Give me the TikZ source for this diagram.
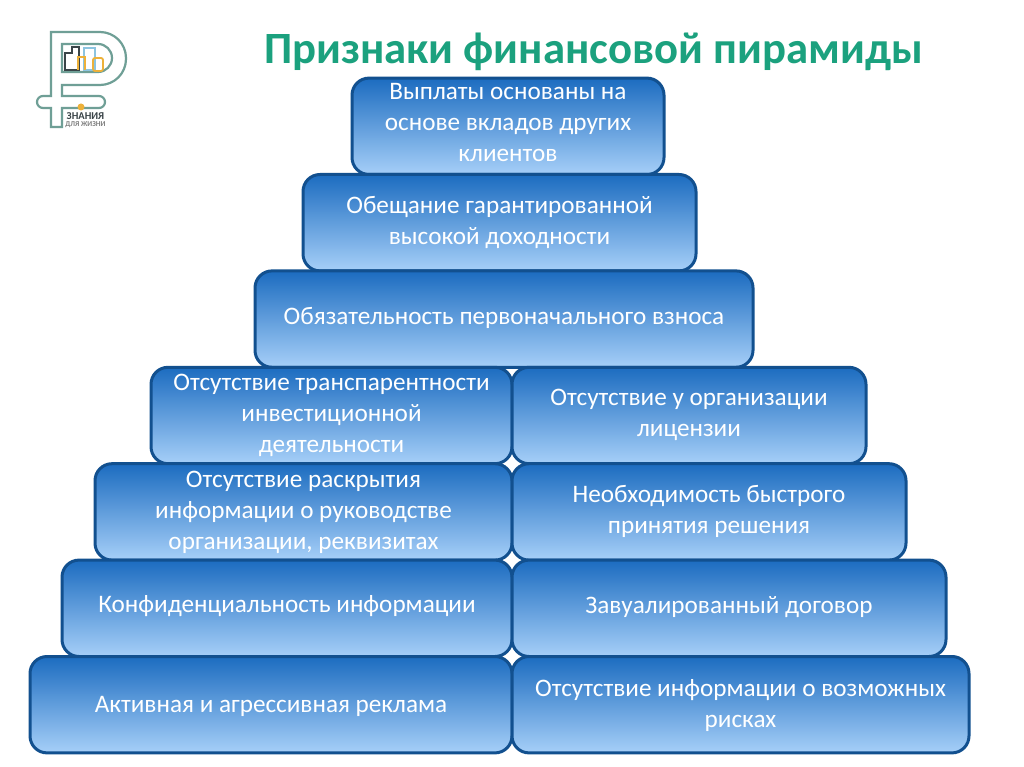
\documentclass[tikz,border=0pt]{standalone}
\usepackage{fontspec}
\setmainfont{Carlito}
\usepackage{xcolor}
\usetikzlibrary{positioning}
\definecolor{tierline}{HTML}{12508F}
\definecolor{tiertop}{HTML}{1C6CC0}
\definecolor{tierbottom}{HTML}{A6CFF8}
\definecolor{titlegreen}{HTML}{1BA17E}
\definecolor{logoline}{HTML}{6F9F96}
\definecolor{logoorange}{HTML}{EDB13A}
\definecolor{logoblue}{HTML}{8CC4E0}
\definecolor{logodark}{HTML}{3A4448}

\begin{document}
\begin{tikzpicture}[
    x=1pt, y=-1pt,
    tier/.style={rectangle, draw=tierline, line width=3pt, top color=tiertop, bottom color=tierbottom, rounded corners=17pt, outer sep=0pt, inner sep=0pt, minimum height=96.4pt, minimum width=#1, align=center, text=white, font=\fontsize{25.2}{31}\selectfont},
    heading/.style={font=\bfseries\fontsize{44.7}{50}\selectfont, text=titlegreen, inner sep=0pt},
    logotext/.style={inner sep=0pt, font=\bfseries\fontsize{#1}{#1}\selectfont},
    logoshape/.style={draw=logoline, line width=2.2pt, fill=white}
  ]
    \useasboundingbox (0,0) rectangle (1024,767);
    \fill[white] (0,0) rectangle (1024,767);

    % Title
    \node[heading] (title) at (593.5,52) {Признаки финансовой пирамиды};

    % Logo
    \draw[logoshape] (51,127) -- (51,108) [rounded corners=6pt] -- (37,108) -- (37,96) [sharp corners] -- (51,96) -- (51,32) -- (100,32) [rounded corners=26pt] -- (126,32) -- (126,85) [sharp corners] -- (100,85) -- (62,85) -- (62,96) [rounded corners=6pt] -- (105,96) -- (105,108) [sharp corners] -- (62,108) -- (62,127) -- cycle;
    \draw[logoshape] (62,44) -- (98,44) [rounded corners=14pt] -- (112,44) -- (112,72) [sharp corners] -- (98,72) -- (62,72) -- cycle;
    \draw[logodark, line width=2.2pt] (65,70) -- (65,53) -- (72,53) -- (72,47) -- (79,47) -- (79,70) -- cycle;
    \draw[logoblue, line width=1.8pt] (84,70) -- (84,48) -- (95,48) -- (95,70) -- cycle;
    \draw[logoorange, line width=1.8pt] (78,70) -- (78,57) -- (85,57) -- (85,70);
    \draw[logoorange, line width=1.8pt, rounded corners=2pt] (93,71) -- (93,58) -- (103,58) -- (103,71) -- cycle;
    \fill[logoorange] (81,107) circle (3.5);
    \node[logotext=10.5, text=logodark] (logoname) at (85.5,116) {ЗНАНИЯ};
    \node[logotext=7.5, text=gray] (logosub) at (85.5,124.5) {ДЛЯ ЖИЗНИ};

    % Top of the pyramid
    \node[tier=312pt, text depth=7pt] (payout) at (508,126.3) {Выплаты основаны на\\основе вкладов других\\клиентов};
    \node[tier=393pt, below=0pt of payout, xshift=-8.5pt, text depth=5pt] (promise) {Обещание гарантированной\\высокой доходности};
    \node[tier=498pt, below=0pt of promise, xshift=4.5pt, text depth=7pt] (deposit) {Обязательность первоначального взноса};

    % Left column
    \node[tier=361pt, anchor=north east, text depth=5pt] (opaque) at ([xshift=8pt]deposit.south) {Отсутствие транспарентности\\инвестиционной\\деятельности};
    \node[tier=417pt, anchor=north east, text depth=4pt] (disclosure) at (opaque.south east) {Отсутствие раскрытия\\информации о руководстве\\организации, реквизитах};
    \node[tier=450pt, anchor=north east, text depth=8pt] (secrecy) at (disclosure.south east) {Конфиденциальность информации};
    \node[tier=482pt, anchor=north east, text depth=0pt] (advert) at (secrecy.south east) {Активная и агрессивная реклама};

    % Right column
    \node[tier=354pt, right=0pt of opaque, text depth=5pt] (license) {Отсутствие у организации\\лицензии};
    \node[tier=394pt, anchor=north west, text depth=5pt] (haste) at (license.south west) {Необходимость быстрого\\принятия решения};
    \node[tier=434pt, anchor=north west, text depth=7pt] (contract) at (haste.south west) {Завуалированный договор};
    \node[tier=457pt, anchor=north west, text depth=2pt] (risks) at (contract.south west) {Отсутствие информации о возможных\\рисках};

\end{tikzpicture}
\end{document}
